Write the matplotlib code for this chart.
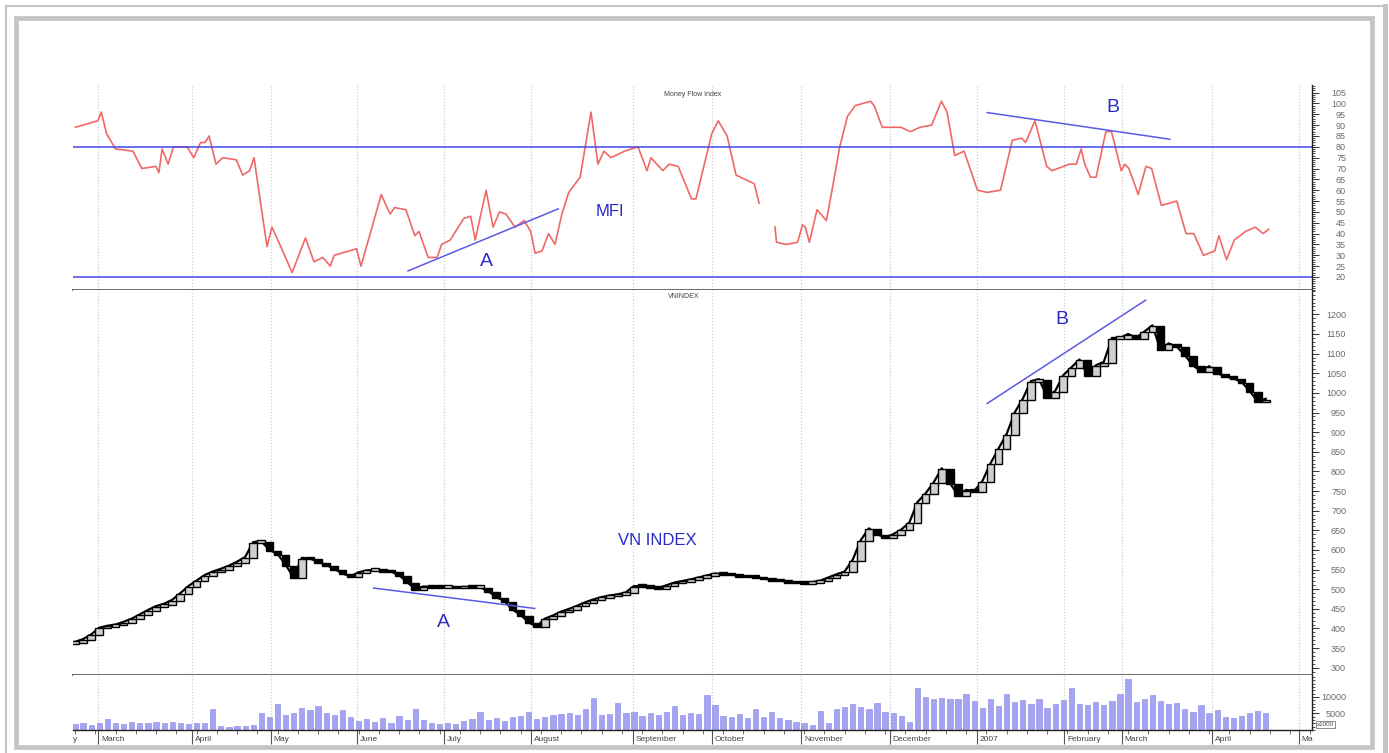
import numpy as np
import matplotlib.pyplot as plt
from matplotlib.lines import Line2D
from matplotlib.patches import Rectangle
from matplotlib.ticker import MultipleLocator

plt.rcParams['font.family'] = ['Liberation Sans', 'DejaVu Sans']

# x axis = trading day index
month_days = [5.7, 28.9, 48.4, 69.6, 91.1, 112.6, 137.8, 157.3, 179.3, 201.2,
              222.7, 244.2, 258.5, 280.7, 302.2]
month_names = ['March', 'April', 'May', 'June', 'July', 'August', 'September',
               'October', 'November', 'December', '2007', 'February', 'March',
               'April', 'Ma']

# money flow index (turning points, nan = gap in the line)
mfi_day = [0.1, 5.6, 6.5, 7.8, 10.0, 14.3, 16.5, 20.0, 20.7, 21.5,
           23.0, 24.3, 27.7, 29.3, 31.0, 32.1, 33.1, 34.8, 36.5, 39.8,
           41.4, 43.1, 44.2, 45.2, 47.4, 48.6, 50.8, 53.6, 56.9, 59.0,
           61.2, 63.0, 64.0, 69.5, 70.6, 75.6, 77.8, 78.9, 81.7, 83.9,
           84.9, 87.2, 89.4, 90.5, 92.6, 96.0, 97.7, 98.8, 101.5, 103.2,
           104.8, 106.4, 108.6, 110.9, 112.5, 113.6, 115.3, 116.9, 118.5, 120.2,
           121.9, 124.7, 127.4, 129.1, 130.6, 132.3, 135.7, 139.0, 141.2, 142.2,
           145.1, 146.7, 148.9, 152.2, 153.3, 157.2, 158.8, 161.0, 163.2, 165.4,
           167.7, 168.9,
           170.8,
           172.8, 173.2, 175.6, 178.4, 179.6, 180.3, 181.3, 183.2, 185.5, 186.9,
           188.8, 190.7, 192.6, 196.4, 197.3, 199.3, 202.1, 203.9, 206.3, 208.6,
           211.5, 213.9, 215.3, 217.2, 219.5, 222.8, 225.2, 228.5, 231.4, 233.7,
           234.7, 237.0, 239.9, 241.2, 245.5, 247.2, 248.4, 249.3, 250.7, 252.1,
           254.5, 255.9, 258.3, 259.2, 260.2, 262.5, 264.4, 265.8, 268.2, 272.0,
           274.3, 276.2, 278.6, 281.4, 282.4, 284.3, 286.2, 289.0, 291.4, 293.3,
           294.7]
mfi_val = [89, 92, 96, 86, 79, 78, 70, 71, 68, 79,
           72, 80, 80, 75, 82, 82, 85, 72, 75, 74,
           67, 69, 75, 62, 34, 43, 34, 22, 38, 27,
           29, 25, 30, 33, 25, 58, 49, 52, 51, 39,
           41, 29, 29, 35, 37, 47, 48, 37, 60, 43,
           50, 49, 43, 46, 41, 31, 32, 40, 35, 49,
           59, 66, 96, 72, 78, 75, 78, 80, 69, 75,
           69, 72, 71, 56, 56, 86, 92, 85, 67, 65,
           63, 54,
           np.nan,
           43, 36, 35, 36, 44, 43, 36, 51, 46, 60,
           80, 94, 99, 101, 99, 89, 89, 89, 87, 89,
           90, 101, 96, 76, 78, 60, 59, 60, 83, 84,
           82, 92, 71, 69, 72, 72, 79, 72, 66, 66,
           87, 87, 69, 72, 70, 58, 71, 70, 53, 55,
           40, 40, 30, 32, 39, 28, 37, 41, 43, 40,
           42]

# VN index closes, one every 2 trading days
vn_close = [366, 373, 385, 402, 407, 410, 417, 425, 436, 447,
            457, 463, 473, 490, 508, 522, 536, 545, 552, 560,
            570, 582, 620, 622, 600, 590, 562, 530, 580, 578,
            570, 562, 552, 540, 533, 543, 548, 549, 547, 545,
            536, 518, 500, 507, 506, 505, 507, 504, 506, 505,
            505, 495, 480, 470, 448, 435, 415, 405, 425, 433,
            443, 450, 458, 467, 474, 480, 484, 487, 492, 508,
            507, 505, 503, 510, 517, 521, 525, 530, 535, 540,
            538, 537, 534, 532, 530, 527, 524, 522, 519, 517,
            515, 518, 522, 530, 538, 545, 575, 625, 655, 640,
            632, 640, 652, 670, 722, 744, 772, 808, 770, 740,
            753, 750, 775, 820, 858, 895, 950, 985, 1030, 1035,
            990, 1005, 1045, 1065, 1085, 1045, 1070, 1079, 1140, 1140,
            1150, 1140, 1156, 1172, 1110, 1126, 1118, 1096, 1070, 1055,
            1068, 1050, 1042, 1037, 1028, 1005, 978, 985]

# volume, one every 2 trading days
volume = [1800, 2100, 1600, 2200, 3200, 2000, 1900, 2300, 2100, 2200,
          2400, 2000, 2300, 2100, 1800, 2000, 2200, 6300, 1200, 1000,
          1100, 1300, 1500, 5200, 3800, 7800, 4500, 5200, 6800, 6000,
          7300, 5200, 4400, 6000, 3800, 2800, 3200, 2500, 3600, 2200,
          4200, 3000, 6500, 3000, 2200, 1800, 2000, 1800, 2600, 3200,
          5500, 3000, 3500, 2800, 3800, 4200, 5600, 3400, 3800, 4500,
          4800, 5000, 4600, 6500, 9800, 4500, 4800, 8200, 5000, 5500,
          4200, 5000, 4600, 5500, 7200, 4500, 5200, 4800, 10500, 7500,
          4200, 3800, 4700, 3600, 6300, 3800, 5500, 3500, 3000, 2400,
          2200, 1600, 5800, 2200, 6500, 7000, 7800, 7000, 6500, 8200,
          5500, 5000, 4300, 2500, 12800, 10000, 9300, 9800, 9500, 9500,
          10800, 8900, 6700, 9500, 7200, 11000, 8500, 9200, 8000, 9500,
          6800, 7800, 9000, 12800, 8000, 7500, 8500, 7600, 8800, 11000,
          15500, 8500, 9500, 10500, 8700, 7800, 8200, 6500, 5500, 7500,
          5000, 6000, 3800, 3500, 4200, 5200, 5800, 5200]

# trend lines drawn on the chart
mfi_line_a = ([82.2, 119.3], [22.8, 51.4])
mfi_line_b = ([225.2, 270.3], [95.8, 83.5])
vn_line_a = ([73.7, 113.5], [503, 451])
vn_line_b = ([225.2, 264.3], [973, 1236])

blue = '#4646e0'
txt_blue = '#2a2ac8'

fig = plt.figure(figsize=(13.89, 7.53), dpi=100)
W, H = 1389.0, 753.0

# grey frame
def fx(x):
    return x / W

def fy(y):
    return (H - y) / H

fig.add_artist(Line2D([fx(6), fx(6)], [fy(6), fy(753)], color='#c4c4c4', lw=1.5))
fig.add_artist(Line2D([fx(6), fx(1385)], [fy(6), fy(6)], color='#c4c4c4', lw=1.5))
fig.add_artist(Line2D([fx(1384.5), fx(1384.5)], [fy(6), fy(753)], color='#c4c4c4', lw=3.6))
fig.add_artist(Rectangle((fx(15.5), fy(746.5)), fx(1372) - fx(15.5), fy(17.5) - fy(746.5),
                         fill=False, ec='#c4c4c4', lw=3.4))

left, width = 73 / W, 1239 / W
ax1 = fig.add_axes([left, 463 / H, width, 205 / H])
ax2 = fig.add_axes([left, 78 / H, width, 385 / H])
ax3 = fig.add_axes([left, 23 / H, width, 55 / H])

for ax in (ax1, ax2, ax3):
    ax.set_xlim(-0.5, 305.4)
    ax.spines['left'].set_visible(False)
    ax.spines['top'].set_visible(False)
    ax.spines['right'].set_color('#222222')
    ax.spines['right'].set_linewidth(1.0)
    ax.spines['bottom'].set_color('#6a6a6a')
    ax.spines['bottom'].set_linewidth(1.4)
    ax.yaxis.tick_right()
    ax.tick_params(axis='y', which='major', length=5, width=0.7, color='#333333',
                   labelsize=6.5, labelcolor='#6a6a6a', pad=19.5)
    ax.tick_params(axis='y', which='minor', length=2.5, width=0.6, color='#333333')
    for d in month_days:
        ax.axvline(d, color='#cfcfcf', ls=(0, (1, 1.5)), lw=0.9, zorder=0)

# MFI panel
ax1.plot(mfi_day, mfi_val, color='#f06868', lw=1.2)
ax1.axhline(80, color=blue, lw=1.1)
ax1.axhline(20, color=blue, lw=1.1)
ax1.plot(*mfi_line_a, color='#5a5ae6', lw=1.1)
ax1.plot(*mfi_line_b, color='#5a5ae6', lw=1.1)
ax1.set_ylim(14.0, 108.5)
ax1.set_yticks(np.arange(20, 106, 5))
ax1.yaxis.set_minor_locator(MultipleLocator(1))
ax1.set_xticks([])
ax1.text(0.5, 0.956, 'Money Flow Index', transform=ax1.transAxes, ha='center',
         va='center', fontsize=5, color='#444444')
ax1.text(101.5, 27, 'A', color=txt_blue, fontsize=14, ha='center', va='center')
ax1.text(132.1, 50, 'MFI', color=txt_blue, fontsize=12, ha='center', va='center')
ax1.text(256.3, 98, 'B', color=txt_blue, fontsize=14, ha='center', va='center')

# VN index candles (open taken as previous close)
close = np.array(vn_close, dtype=float)
days = np.arange(len(close)) * 2
opens = np.r_[close[0] - 4, close[:-1]]
lo = np.minimum(opens, close)
hi = np.maximum(opens, close)
body = np.maximum(hi - lo, 7)
up = close >= opens
ax2.plot(days, close, color='black', lw=1.6, zorder=2)
ax2.bar(days[up], body[up], bottom=lo[up] - 2, width=1.9, color='#cfcfcf',
        edgecolor='black', lw=1.0, zorder=3)
ax2.bar(days[~up], body[~up], bottom=lo[~up] - 2, width=1.9, color='black',
        edgecolor='black', lw=1.0, zorder=3)
ax2.plot(*vn_line_a, color='#5a5ae6', lw=1.1, zorder=4)
ax2.plot(*vn_line_b, color='#5a5ae6', lw=1.1, zorder=4)
ax2.set_ylim(281.5, 1262)
ax2.set_yticks(np.arange(300, 1201, 50))
ax2.yaxis.set_minor_locator(MultipleLocator(10))
ax2.set_xticks([])
ax2.text(0.493, 0.982, 'VNINDEX', transform=ax2.transAxes, ha='center',
         va='center', fontsize=5, color='#444444')
ax2.text(143.7, 625, 'VN INDEX', color=txt_blue, fontsize=12, ha='center', va='center')
ax2.text(90.9, 414, 'A', color=txt_blue, fontsize=14, ha='center', va='center')
ax2.text(243.7, 1186, 'B', color=txt_blue, fontsize=14, ha='center', va='center')

# volume panel
ax3.bar(np.arange(len(volume)) * 2, volume, width=1.3, color='#a4a4f2',
        edgecolor='#8484e4', lw=0.4)
ax3.set_ylim(0, 16650)
ax3.set_yticks([5000, 10000])
ax3.yaxis.set_minor_locator(MultipleLocator(1000))
ax3.spines['bottom'].set_color('#222222')
ax3.spines['bottom'].set_linewidth(1.0)
ax3.set_xticks(month_days)
ax3.set_xticklabels([])
ax3.xaxis.set_minor_locator(MultipleLocator(5))
ax3.tick_params(axis='x', which='major', length=10, width=0.8, color='#555555')
ax3.tick_params(axis='x', which='minor', length=3, width=0.6, color='#555555')
for d, name in zip(month_days, month_names):
    ax3.annotate(name, xy=(d, 0), xycoords=('data', 'axes fraction'),
                 xytext=(2, -6.5), textcoords='offset points', ha='left',
                 va='center', fontsize=6, color='#444444')
ax3.annotate('y', xy=(-0.5, 0), xycoords=('data', 'axes fraction'),
             xytext=(0, -6.5), textcoords='offset points', ha='left',
             va='center', fontsize=6, color='#444444')
ax3.text(1.004, 0.1, 'x1000', transform=ax3.transAxes, fontsize=4.5,
         color='#444444', va='center', ha='left',
         bbox=dict(boxstyle='square,pad=0.15', fc='white', ec='#777777', lw=0.6))

for ax in (ax1, ax2, ax3):
    for label in ax.get_yticklabels():
        label.set_horizontalalignment('right')

fig.savefig('out.png', dpi=100)
